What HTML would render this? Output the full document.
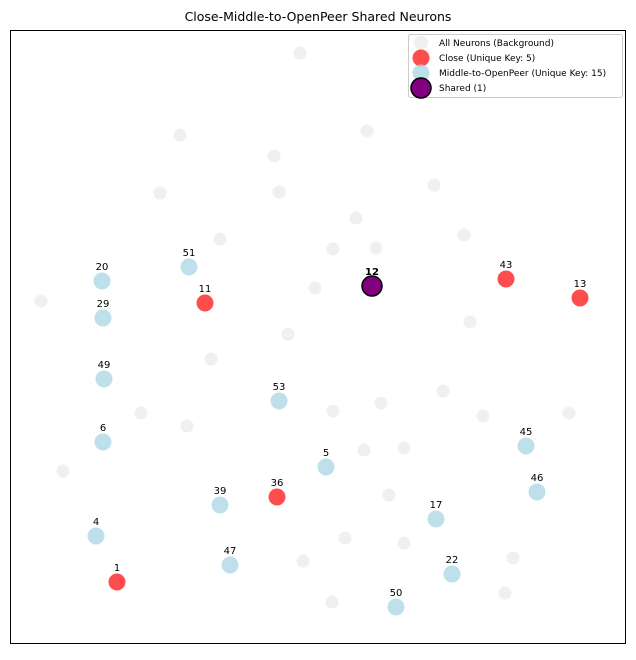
<!DOCTYPE html>
<html><head><meta charset="utf-8"><style>
body{margin:0;background:#fff;font-family:"Liberation Sans","DejaVu Sans",sans-serif}
svg text{font-family:"DejaVu Sans","Liberation Sans",sans-serif}
</style></head><body>
<svg id="chart" width="636" height="655">
<rect width="636" height="655" fill="#fff"/>
<text x="318" y="21" text-anchor="middle" font-size="12.5">Close-Middle-to-OpenPeer Shared Neurons</text>
<rect x="10.5" y="30.5" width="615" height="613" fill="none" stroke="#000" stroke-width="1"/>
<g id="bg"></g>
<g id="mid"></g>
<g id="close"></g>
<g id="shared"></g>
<g id="labels"></g>
<g>
<rect x="408.5" y="34.5" width="214" height="63" rx="2" fill="#fff" fill-opacity="0.8" stroke="#ccc"/>
<circle cx="421" cy="43" r="7" fill="#d3d3d3" fill-opacity="0.35"/>
<text x="439" y="46" font-size="9">All Neurons (Background)</text>
<circle cx="421" cy="58" r="8.5" fill="#ff0000" fill-opacity="0.7"/>
<text x="439" y="61" font-size="9">Close (Unique Key: 5)</text>
<circle cx="421" cy="73" r="8.5" fill="#add8e6" fill-opacity="0.8"/>
<text x="439" y="76" font-size="9">Middle-to-OpenPeer (Unique Key: 15)</text>
<circle cx="421" cy="88" r="10" fill="#800080" stroke="#000" stroke-width="1.5"/>
<text x="439" y="91" font-size="9">Shared (1)</text>
</g>
</svg>
<script>
const bgX=[290,170,357,264,150,269,424,346,210,323,366,454,31,305,460,278,201,433,131,177,323,371,473,559,53,354,394,379,335,394,293,503,322,495];
const bgY=[23,105,101,126,163,162,155,188,209,219,218,205,271,258,292,304,329,361,383,396,381,373,386,383,441,420,418,465,508,513,531,528,572,563];
const midIds=[20,51,29,49,53,6,5,45,46,39,17,4,47,22,50];
const midX=[92,179,93,94,269,93,316,516,527,210,426,86,220,442,386];
const midY=[251,237,288,349,371,412,437,416,462,475,489,506,535,544,577];
const closeIds=[11,43,13,36,1];
const closeX=[195,496,570,267,107];
const closeY=[273,249,268,467,552];
const sharedIds=[12];
const sharedX=[362];
const sharedY=[256];
const X0=10,Y0=30;
const sx=v=>X0+v, sy=v=>Y0+v;
const NS="http://www.w3.org/2000/svg";
function dot(g,x,y,r,fill,op,stroke){const c=document.createElementNS(NS,'circle');c.setAttribute('cx',sx(x));c.setAttribute('cy',sy(y));c.setAttribute('r',r);c.setAttribute('fill',fill);c.setAttribute('fill-opacity',op);if(stroke){c.setAttribute('stroke',stroke);c.setAttribute('stroke-width',1.5);}document.getElementById(g).appendChild(c);return c;}
function lab(x,y,t,bold){const e=document.createElementNS(NS,'text');e.setAttribute('x',sx(x));e.setAttribute('y',sy(y)-11);e.setAttribute('text-anchor','middle');e.setAttribute('font-size','10');if(bold)e.setAttribute('font-weight','bold');e.textContent=t;


document.getElementById('labels').appendChild(e);}
bgX.forEach((x,i)=>{const c=dot('bg',x,bgY[i],6.5,'#d3d3d3',0.35);

});
midX.forEach((x,i)=>{const c=dot('mid',x,midY[i],8.5,'#add8e6',0.8);

lab(x,midY[i],midIds[i]);});
closeX.forEach((x,i)=>{const c=dot('close',x,closeY[i],8.5,'#ff0000',0.7);

lab(x,closeY[i],closeIds[i]);});
sharedX.forEach((x,i)=>{const c=dot('shared',x,sharedY[i],10,'#800080',1,'#000');

lab(x,sharedY[i],sharedIds[i],true);});
</script>
</body></html>
